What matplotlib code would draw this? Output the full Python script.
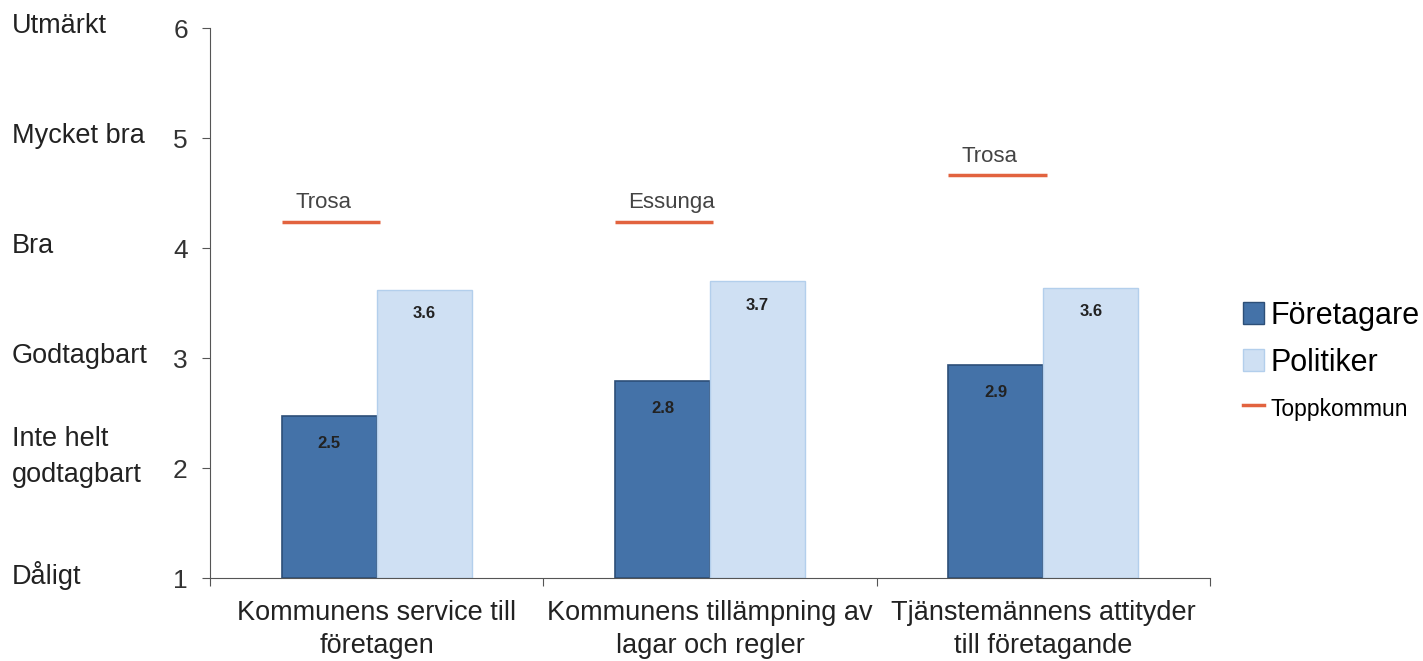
import matplotlib
matplotlib.use('Agg')
import matplotlib.pyplot as plt
from matplotlib.patches import Patch
from matplotlib.lines import Line2D
import numpy as np

plt.rcParams['font.family'] = ['Liberation Sans', 'DejaVu Sans']

# data
kategorier = ['Kommunens service till\nföretagen',
              'Kommunens tillämpning av\nlagar och regler',
              'Tjänstemännens attityder\ntill företagande']
foretagare = [2.47, 2.79, 2.94]
politiker = [3.62, 3.70, 3.64]
topp_varde = [4.24, 4.24, 4.66]
topp_namn = ['Trosa', 'Essunga', 'Trosa']
skala_varde = [1, 2, 3, 4, 5, 6]
skala_text = ['Dåligt', 'Inte helt\ngodtagbart', 'Godtagbart', 'Bra', 'Mycket bra', 'Utmärkt']

mork = '#4472a8'
ljus = '#cfe0f3'
rod = '#e2633f'

fig = plt.figure(figsize=(14.23, 6.61), dpi=100)
ax = fig.add_axes([210 / 1423, 1 - 578 / 661, 1000 / 1423, 550 / 661])

x = np.arange(len(kategorier))
w = 0.285
ax.bar(x - w / 2, [v - 1 for v in foretagare], w, bottom=1, color=mork,
       edgecolor='#2d4f78', linewidth=1.2)
ax.bar(x + w / 2, [v - 1 for v in politiker], w, bottom=1, color=ljus,
       edgecolor='#b3cfec', linewidth=1.0)

for i in range(len(x)):
    ax.text(x[i] - w / 2, foretagare[i] - 0.25, f'{foretagare[i]:.1f}', ha='center',
            va='center', fontsize=12, color='#222222', fontweight='bold')
    ax.text(x[i] + w / 2, politiker[i] - 0.22, f'{politiker[i]:.1f}', ha='center',
            va='center', fontsize=12, color='#222222', fontweight='bold')
    ax.hlines(topp_varde[i], x[i] - w, x[i] + 0.01, color=rod, linewidth=2.5)
    ax.text(x[i] - w + 0.04, topp_varde[i] + 0.08, topp_namn[i], ha='left',
            va='bottom', fontsize=16, color='#444444')

ax.set_xlim(-0.5, 2.5)
ax.set_ylim(1, 6)
ax.set_yticks(skala_varde)
ax.set_yticklabels([str(v) for v in skala_varde], fontsize=19, color='#333333')
ax.tick_params(axis='y', direction='out', length=6, pad=10, color='#555555')

ax.set_xticks([-0.5, 0.5, 1.5, 2.5])
ax.set_xticklabels([])
ax.set_xticks(x, minor=True)
ax.set_xticklabels(kategorier, minor=True, fontsize=19.5, color='#222222',
                   linespacing=1.32)
ax.tick_params(axis='x', which='major', direction='out', length=6, color='#555555')
ax.tick_params(axis='x', which='minor', length=0, pad=16)

for s in ['top', 'right']:
    ax.spines[s].set_visible(False)
ax.spines['left'].set_color('#555555')
ax.spines['bottom'].set_color('#555555')

for v, t in zip(skala_varde, skala_text):
    dy = 0.1 if '\n' in t else 0.02
    ax.text(-0.5 - 198 / 333, v + dy, t, transform=ax.transData, ha='left',
            va='center', fontsize=19.5, color='#222222', clip_on=False,
            linespacing=1.55)

handles = [Patch(facecolor=mork, edgecolor='#2d4f78'),
           Patch(facecolor=ljus, edgecolor='#b3cfec'),
           Line2D([0], [0], color=rod, linewidth=2.5)]
leg = ax.legend(handles, ['Företagare', 'Politiker', 'Toppkommun'],
                loc='center left', bbox_to_anchor=(1.033, 0.395), frameon=False,
                handlelength=0.7, handleheight=0.7, handletextpad=0.2,
                labelspacing=0.55, fontsize=22, borderpad=0, borderaxespad=0)
leg.get_texts()[2].set_fontsize(16.5)

fig.savefig('out.png', dpi=100, facecolor='white')
